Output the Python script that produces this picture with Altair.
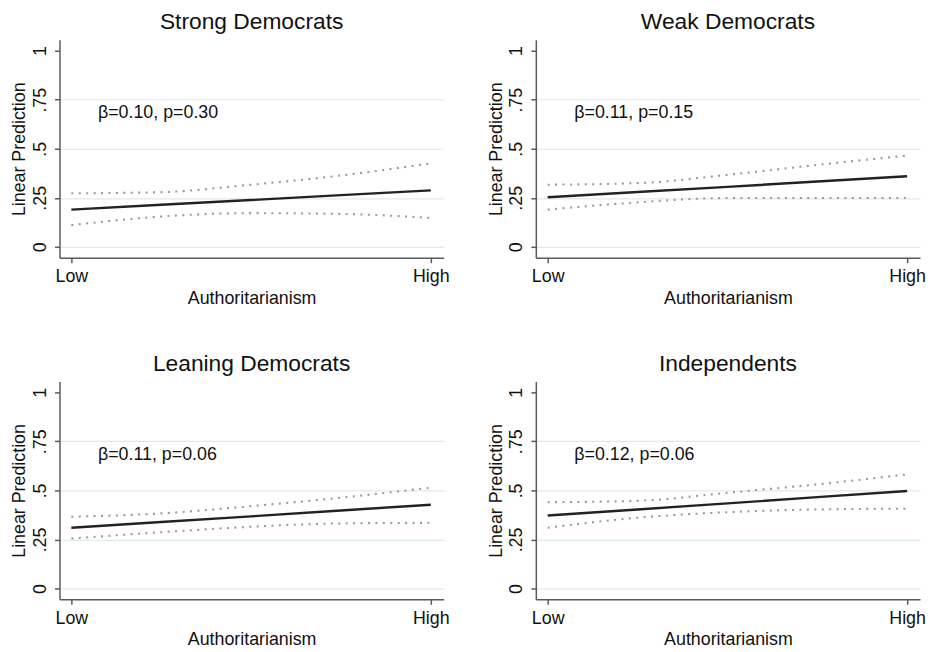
import altair as alt
import pandas as pd

# ---------------- data ----------------
panels = ["Strong Democrats", "Weak Democrats", "Leaning Democrats", "Independents"]
notes = ["β=0.10, p=0.30", "β=0.11, p=0.15", "β=0.11, p=0.06", "β=0.12, p=0.06"]

# authoritarianism (0 = Low, 1 = High)
auth = [0.0, 0.25, 0.5, 0.75, 1.0]

strong_fit = [0.190, 0.215, 0.239, 0.264, 0.288]
strong_hi = [0.273, 0.279, 0.317, 0.364, 0.426]
strong_lo = [0.111, 0.155, 0.172, 0.168, 0.148]

weak_fit = [0.253, 0.280, 0.306, 0.333, 0.360]
weak_hi = [0.317, 0.325, 0.367, 0.418, 0.465]
weak_lo = [0.190, 0.227, 0.249, 0.249, 0.249]

lean_fit = [0.310, 0.339, 0.368, 0.398, 0.427]
lean_hi = [0.366, 0.383, 0.420, 0.463, 0.514]
lean_lo = [0.255, 0.287, 0.315, 0.332, 0.335]

ind_fit = [0.372, 0.403, 0.434, 0.466, 0.497]
ind_hi = [0.440, 0.447, 0.488, 0.531, 0.582]
ind_lo = [0.310, 0.361, 0.389, 0.403, 0.407]

fits = [strong_fit, weak_fit, lean_fit, ind_fit]
his = [strong_hi, weak_hi, lean_hi, ind_hi]
los = [strong_lo, weak_lo, lean_lo, ind_lo]

x_ticks = [0, 1]
x_tick_labels = ["Low", "High"]
y_ticks = [0, 0.25, 0.5, 0.75, 1]
y_tick_labels = ["0", ".25", ".5", ".75", "1"]

# ---------------- styling ----------------
FONT = "Liberation Sans"
AXIS_COLOR = "#5a5a5a"
GRID_COLOR = "#dfeaec"
CI_COLOR = "#9a9a9a"


def label_expr(values, labels):
    expr = "''"
    for v, l in reversed(list(zip(values, labels))):
        expr = f"datum.value == {v} ? '{l}' : ({expr})"
    return expr


x_enc_scale = alt.Scale(domain=[-0.033, 1.036], nice=False, zero=False)
y_enc_scale = alt.Scale(domain=[-0.055, 1.055], nice=False, zero=False)

x_axis = alt.Axis(
    values=x_ticks,
    labelExpr=label_expr(x_ticks, x_tick_labels),
    title="Authoritarianism",
    grid=False,
    labelPadding=5,
    titlePadding=4,
    labelFlush=False,
)
y_axis = alt.Axis(
    values=y_ticks,
    labelExpr=label_expr(y_ticks, y_tick_labels),
    title="Linear Prediction",
    grid=True,
    gridColor=GRID_COLOR,
    gridWidth=1.2,
    gridOpacity={"condition": {"test": "datum.value == 1", "value": 0}, "value": 1},
    labelAngle=270,
    labelAlign="center",
    labelBaseline="bottom",
    labelPadding=5,
    titlePadding=3,
)


def panel(name, fit, hi, lo, note):
    df = pd.DataFrame({"auth": auth, "fit": fit, "hi": hi, "lo": lo})
    base = alt.Chart(df)
    x = alt.X("auth:Q", scale=x_enc_scale, axis=x_axis)

    def yenc(field):
        return alt.Y(f"{field}:Q", scale=y_enc_scale, axis=y_axis)

    ci_hi = base.mark_line(
        color=CI_COLOR, strokeWidth=2.1, strokeDash=[2, 5.5], interpolate="monotone"
    ).encode(x=x, y=yenc("hi"))
    ci_lo = base.mark_line(
        color=CI_COLOR, strokeWidth=2.1, strokeDash=[2, 5.5], interpolate="monotone"
    ).encode(x=x, y=yenc("lo"))
    fit_line = base.mark_line(color="#222222", strokeWidth=2.4).encode(
        x=x, y=yenc("fit")
    )
    text = (
        alt.Chart(pd.DataFrame({"note": [note]}))
        .mark_text(align="left", baseline="middle", fontSize=18, font=FONT, color="#111")
        .encode(x=alt.datum(0.074, scale=x_enc_scale), y=alt.datum(0.68), text="note:N")
    )
    return alt.layer(ci_hi, ci_lo, fit_line, text).properties(
        width=388,
        height=220,
        title=alt.TitleParams(
            name, fontSize=23, fontWeight="normal", font=FONT, color="#111", offset=6
        ),
    )


charts = [panel(n, f, h, l, t) for n, f, h, l, t in zip(panels, fits, his, los, notes)]

chart = (
    alt.concat(*charts, columns=2, spacing={"row": 125, "column": 93}, bounds="flush")
    .properties(padding={"left": 3, "top": 0, "right": 0, "bottom": 0})
    .configure_view(stroke=None)
    .configure_axis(
        domainColor=AXIS_COLOR,
        domainWidth=1.5,
        tickColor=AXIS_COLOR,
        tickWidth=1.5,
        tickSize=5,
        labelFont=FONT,
        labelFontSize=18,
        labelColor="#111",
        titleFont=FONT,
        titleFontSize=18,
        titleFontWeight="normal",
        titleColor="#111",
    )
    .configure_title(anchor="middle")
)

chart.save("out.html", embed_options={"renderer": "svg", "actions": False})
